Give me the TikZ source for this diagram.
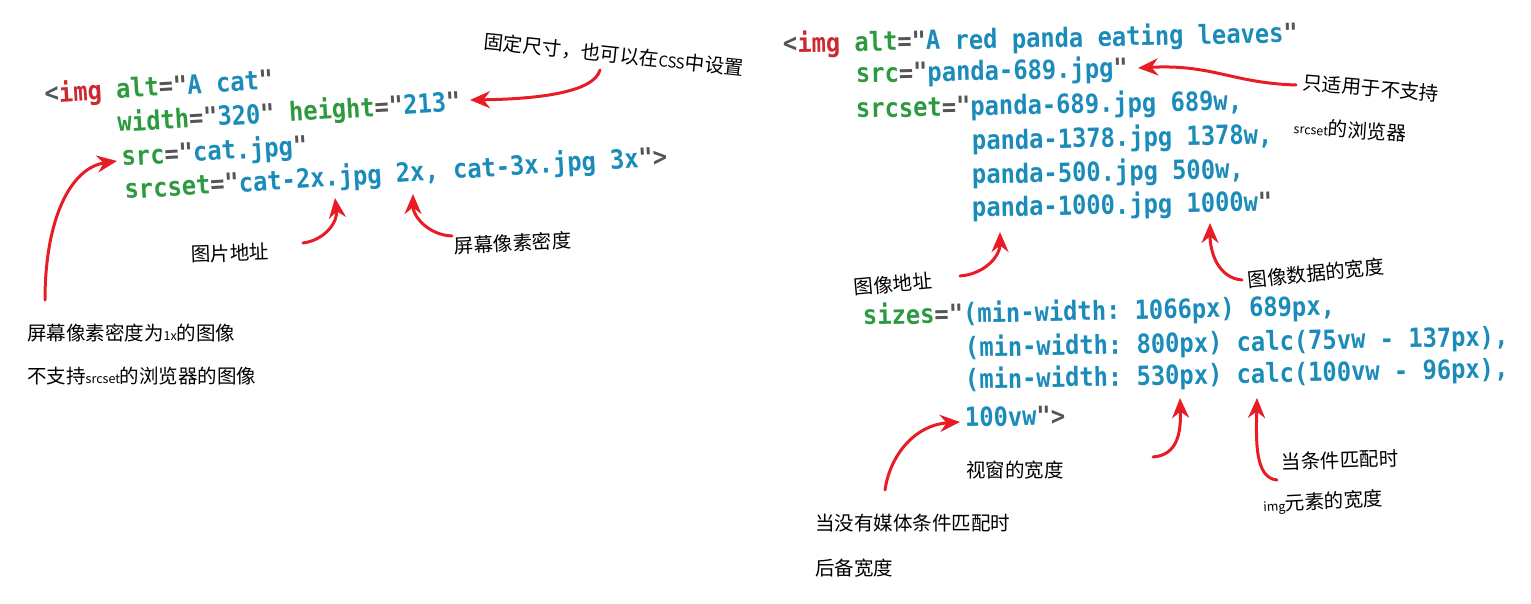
\documentclass[tikz,border=0pt]{standalone}
\usepackage{fontspec}
\usetikzlibrary{arrows.meta}
\setmonofont{DejaVu Sans Mono}[FakeStretch=0.9]
\newfontfamily\cjk{Noto Sans CJK SC}
\definecolor{kgraycol}{RGB}{85,85,85}
\definecolor{kredcol}{RGB}{204,41,48}
\definecolor{kgreencol}{RGB}{46,154,64}
\definecolor{kbluecol}{RGB}{27,139,186}
\definecolor{arrowred}{RGB}{232,28,36}
\newcommand{\kgray}[1]{\textcolor{kgraycol}{#1}}
\newcommand{\kred}[1]{\textcolor{kredcol}{#1}}
\newcommand{\kgreen}[1]{\textcolor{kgreencol}{#1}}
\newcommand{\kblue}[1]{\textcolor{kbluecol}{#1}}
\newcommand{\smalllat}[1]{{\fontsize{12.5}{12.5}\selectfont #1}}
\begin{document}
\begin{tikzpicture}[x=1pt,y=-1pt,
  code/.style={anchor=base west,inner sep=0pt,font=\ttfamily\bfseries\fontsize{26.4}{26.4}\selectfont},
  note/.style={inner sep=0pt,font=\cjk\fontsize{19.5}{19.5}\selectfont,text=black},
  redarrow/.style={draw=arrowred,line width=3pt,line cap=round,-{Stealth[length=20pt,width=17pt]}}]
\path[use as bounding box] (0,0) rectangle (1531,604);
% ---------- left code block ----------
\node[code,rotate=3.5] (c1) at (45,103) {\kgray{<}\kred{img} \kgreen{alt}\kgray{="}\kblue{A cat}\kgray{"}};
\node[code,rotate=3.5] (c2) at (118,132) {\kgreen{width}\kgray{="}\kblue{320}\kgray{"} \kgreen{height}\kgray{="}\kblue{213}\kgray{"}};
\node[code,rotate=3.5] (c3) at (122,166) {\kgreen{src}\kgray{="}\kblue{cat.jpg}\kgray{"}};
\node[code,rotate=3.5] (c4) at (125,199) {\kgreen{srcset}\kgray{="}\kblue{cat-2x.jpg 2x, cat-3x.jpg 3x}\kgray{">}};
% ---------- right code block ----------
\node[code,rotate=1.2] (r1) at (783,53) {\kgray{<}\kred{img} \kgreen{alt}\kgray{="}\kblue{A red panda eating leaves}\kgray{"}};
\node[code,rotate=1.2] (r2) at (856,83) {\kgreen{src}\kgray{="}\kblue{panda-689.jpg}\kgray{"}};
\node[code,rotate=1.2] (r3) at (856,118) {\kgreen{srcset}\kgray{="}\kblue{panda-689.jpg 689w,}};
\node[code,rotate=1.2] (r4) at (972,150) {\kblue{panda-1378.jpg 1378w,}};
\node[code,rotate=1.2] (r5) at (972,184) {\kblue{panda-500.jpg 500w,}};
\node[code,rotate=1.2] (r6) at (972,217) {\kblue{panda-1000.jpg 1000w}\kgray{"}};
\node[code,rotate=1.2] (s1) at (863,325) {\kgreen{sizes}\kgray{="}\kblue{(min-width: 1066px) 689px,}};
\node[code,rotate=1.2] (s2) at (965,357) {\kblue{(min-width: 800px) calc(75vw - 137px),}};
\node[code,rotate=1.2] (s3) at (965,389) {\kblue{(min-width: 530px) calc(100vw - 96px),}};
\node[code,rotate=1.2] (s4) at (965,427) {\kblue{100vw}\kgray{">}};
% ---------- notes ----------
\node[note,rotate=-6] (n1) at (614,55) {固定尺寸，也可以在{\fontsize{15}{15}\selectfont CSS}中设置};
\node[note,rotate=2] (n2) at (230,253) {图片地址};
\node[note,rotate=3] (n3) at (513,243) {屏幕像素密度};
\node[note,anchor=west] (n4) at (27,333) {屏幕像素密度为\smalllat{1x}的图像};
\node[note,anchor=west] (n5) at (27,376) {不支持\smalllat{srcset}的浏览器的图像};
\node[note,rotate=-5] (n6) at (1371,88) {只适用于不支持};
\node[note,rotate=-4] (n7) at (1350,130) {\smalllat{srcset}的浏览器};
\node[note,rotate=5] (n8) at (893,284) {图像地址};
\node[note,rotate=6] (n9) at (1316,273) {图像数据的宽度};
\node[note] (n10) at (1015,470) {视窗的宽度};
\node[note,rotate=2] (n11) at (1340,460) {当条件匹配时};
\node[note,rotate=3] (n12) at (1323,502) {\smalllat{img}元素的宽度};
\node[note,anchor=west] (n13) at (815,523) {当没有媒体条件匹配时};
\node[note,anchor=west] (n14) at (815,568) {后备宽度};
% ---------- arrow ends ----------
\coordinate (t1) at (600,70);   \coordinate (h1) at (470,100);
\coordinate (t2) at (303,243);  \coordinate (h2) at (335,198);
\coordinate (t3) at (452,236);  \coordinate (h3) at (413,194);
\coordinate (t4) at (45,300);   \coordinate (h4) at (117,161);
\coordinate (t5) at (1296,85);  \coordinate (h5) at (1138,68);
\coordinate (t6) at (960,276);  \coordinate (h6) at (1000,232);
\coordinate (t7) at (1242,280); \coordinate (h7) at (1210,223);
\coordinate (t8) at (885,490);  \coordinate (h8) at (960,422);
\coordinate (t9) at (1153,457); \coordinate (h9) at (1180,398);
\coordinate (t10) at (1277,480);\coordinate (h10) at (1257,398);
% ---------- arrows ----------
\draw[redarrow] (t1) .. controls (594,92) and (540,99) .. (h1);
\draw[redarrow] (t2) .. controls (325,240) and (338,222) .. (h2);
\draw[redarrow] (t3) .. controls (428,235) and (413,216) .. (h3);
\draw[redarrow] (t4) .. controls (45,220) and (70,168) .. (h4);
\draw[redarrow] (t5) .. controls (1232,83) and (1212,64) .. (h5);
\draw[redarrow] (t6) .. controls (985,274) and (1000,256) .. (h6);
\draw[redarrow] (t7) .. controls (1218,278) and (1210,252) .. (h7);
\draw[redarrow] (t8) .. controls (890,455) and (915,425) .. (h8);
\draw[redarrow] (t9) .. controls (1178,455) and (1181,432) .. (h9);
\draw[redarrow] (t10) .. controls (1255,478) and (1256,442) .. (h10);
\end{tikzpicture}
\end{document}
